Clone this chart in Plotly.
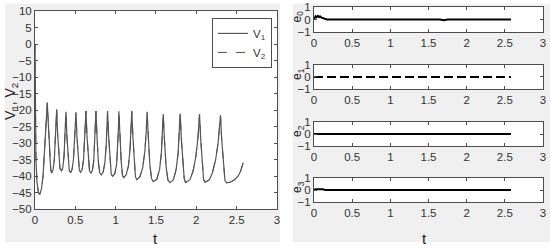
import plotly.graph_objects as go

# membrane potential V1 (V2 is synchronised with it)
t_v = [0.0, 0.005, 0.012, 0.025, 0.045, 0.06, 0.08, 0.10, 0.12, 0.135, 0.145, 0.152,
       0.165, 0.18, 0.195, 0.207, 0.225, 0.24, 0.255, 0.263, 0.269,
       0.28, 0.295, 0.31, 0.33, 0.345, 0.36, 0.372, 0.379, 0.384,
       0.396, 0.41, 0.425, 0.442, 0.46, 0.477, 0.492, 0.501, 0.508,
       0.52, 0.535, 0.55, 0.566, 0.585, 0.602, 0.616, 0.625, 0.632,
       0.645, 0.66, 0.676, 0.694, 0.712, 0.728, 0.741, 0.75, 0.756,
       0.769, 0.785, 0.802, 0.822, 0.845, 0.866, 0.882, 0.892, 0.900,
       0.913, 0.928, 0.945, 0.963, 0.99, 1.012, 1.026, 1.034, 1.040,
       1.053, 1.07, 1.085, 1.10, 1.13, 1.158, 1.178, 1.19, 1.200,
       1.214, 1.23, 1.245, 1.262, 1.30, 1.335, 1.362, 1.378, 1.390,
       1.405, 1.424, 1.445, 1.466, 1.51, 1.545, 1.567, 1.58, 1.590,
       1.605, 1.625, 1.648, 1.673, 1.715, 1.75, 1.775, 1.79, 1.800,
       1.815, 1.835, 1.85, 1.867, 1.92, 1.96, 1.995, 2.02, 2.032, 2.040,
       2.055, 2.072, 2.09, 2.107, 2.16, 2.20, 2.24, 2.27, 2.288, 2.300,
       2.315, 2.335, 2.355, 2.375, 2.42, 2.47, 2.52, 2.55, 2.58]
v1 = [0.0, -20, -35, -42, -45.2, -45.5, -44, -40, -33, -26, -21, -17.8,
      -25, -33, -38, -39.1, -38, -35, -28, -23, -19.8,
      -27, -34, -37.8, -38.4, -37.5, -34, -28, -24, -20.5,
      -28, -35, -38.3, -39.0, -38, -35, -29, -24.5, -20.8,
      -28, -35, -38.3, -38.9, -38, -35, -29, -24.5, -20.3,
      -28, -35, -38.5, -39.1, -38.3, -35.5, -30, -25, -20.3,
      -28, -35.5, -39, -39.7, -38.8, -36, -31, -26, -20.3,
      -28, -35.5, -39.4, -40.1, -39.3, -36.5, -31, -26, -20.4,
      -28, -36, -39.8, -40.5, -39.7, -37, -32, -26.5, -20.4,
      -28, -36, -40.2, -41.1, -40.3, -37.5, -32.5, -27, -20.5,
      -28, -36.5, -40.8, -41.7, -41, -38, -33, -27, -21.2,
      -29, -37, -41.2, -42.0, -41.2, -38, -33, -27, -21.1,
      -29, -37, -40.8, -42.0, -41.2, -38.5, -34, -28.5, -25, -21.3,
      -29, -36.5, -41, -41.9, -41.2, -39, -35, -30, -25.5, -21.7,
      -29, -37, -41.3, -42.1, -41.9, -41.2, -40, -38.5, -36]
v2 = list(v1)

# synchronisation errors
t_e0 = [0.0, 0.01, 0.02, 0.035, 0.05, 0.065, 0.08, 0.10, 0.12, 0.15, 0.17, 1.65, 1.70, 1.75, 2.40, 2.45, 2.50, 2.58]
e0 = [0.0, 0.15, 0.25, 0.18, 0.28, 0.2, 0.25, 0.15, 0.1, 0.02, 0.0, 0.0, -0.06, 0.0, 0.0, -0.03, 0.0, 0.0]
t_e1 = [0.0, 2.58]
e1 = [0.0, 0.0]
t_e2 = [0.0, 2.58]
e2 = [0.0, 0.0]
t_e3 = [0.0, 0.02, 0.12, 0.14, 1.68, 1.72, 1.76, 2.58]
e3 = [0.0, 0.07, 0.07, 0.0, 0.0, 0.03, 0.0, 0.0]

FONT = "Liberation Sans Narrow, Arial Narrow, Liberation Sans, sans-serif"
GREY = "#f0f0f0"
AX = "#4d4d4d"

fig = go.Figure()
fig.add_trace(go.Scatter(x=t_v, y=v2, mode="lines", name="V<sub>2</sub>",
                         line=dict(color="#505050", width=1, dash="dash")))
fig.add_trace(go.Scatter(x=t_v, y=v1, mode="lines", name="V<sub>1</sub>",
                         line=dict(color="#555555", width=1.2)))

errs = [(t_e0, e0, "solid"), (t_e1, e1, "9px,4px"), (t_e2, e2, "solid"), (t_e3, e3, "solid")]
for i, (tx, ey, dash) in enumerate(errs):
    fig.add_trace(go.Scatter(x=tx, y=ey, mode="lines", showlegend=False,
                             xaxis=f"x{i + 2}", yaxis=f"y{i + 2}",
                             line=dict(color="black", width=2, dash=dash)))

common = dict(showgrid=False, zeroline=False, showline=True, linecolor=AX, linewidth=1,
              mirror="ticks", ticks="inside", ticklen=3, tickcolor=AX, automargin=False,
              tickfont=dict(family=FONT, size=11.5, color="#333"))

layout = dict(
    width=550, height=249,
    margin=dict(l=0, r=0, t=0, b=0),
    paper_bgcolor=GREY, plot_bgcolor="white",
    showlegend=True,
    legend=dict(x=0.4945, y=0.928, xanchor="right", yanchor="top",
                bgcolor="white", bordercolor=AX, borderwidth=1,
                font=dict(family=FONT, size=11.5, color="#333"),
                itemwidth=30, traceorder="reversed", tracegroupgap=2),
    xaxis=dict(domain=[0.0636, 0.5036], range=[0, 3], dtick=0.5, anchor="y", **common),
    yaxis=dict(domain=[0.1606, 0.9558], range=[-50, 10], dtick=5, anchor="x", **common),
)

ydoms = [[0.8715, 0.9719], [0.6426, 0.7390], [0.4137, 0.5100], [0.1888, 0.2851]]
for i, dom in enumerate(ydoms):
    n = i + 2
    layout[f"xaxis{n}"] = dict(domain=[0.5709, 0.9873], range=[0, 3], dtick=0.5,
                               anchor=f"y{n}", **common)
    layout[f"yaxis{n}"] = dict(domain=dom, range=[-1, 1], dtick=1, anchor=f"x{n}", **common)

fig.update_layout(**layout)

# white gaps around the two grey panels
for x0, y0, x1, y1 in [(0, 0, 0.009, 1), (0.509, 0, 0.532, 1), (0, 0, 1, 0.028), (0, 0.985, 1, 1)]:
    fig.add_shape(type="rect", xref="paper", yref="paper", x0=x0, y0=y0, x1=x1, y1=y1,
                  fillcolor="white", line_width=0, layer="below")

# axis titles
fig.add_annotation(text="V<sub>1</sub>, V<sub>2</sub>", textangle=-90, x=0.02, y=0.59,
                   xref="paper", yref="paper", xanchor="center", yanchor="middle",
                   showarrow=False, font=dict(family=FONT, size=14, color="#222"))
for i, dom in enumerate(ydoms):
    fig.add_annotation(text=f"e<sub>{i}</sub>", textangle=-90, x=0.541,
                       y=(dom[0] + dom[1]) / 2 + 0.01, xref="paper", yref="paper",
                       xanchor="center", yanchor="middle",
                       showarrow=False, font=dict(family=FONT, size=12, color="#222"))

for xp in [0.2836, 0.771]:
    fig.add_annotation(text="t", x=xp, y=0.042, xref="paper", yref="paper",
                       xanchor="center", yanchor="middle",
                       showarrow=False, font=dict(family=FONT, size=15, color="#222"))

fig.write_html("out.html", config={"displayModeBar": False},
               post_script="document.body.style.margin='0';")
